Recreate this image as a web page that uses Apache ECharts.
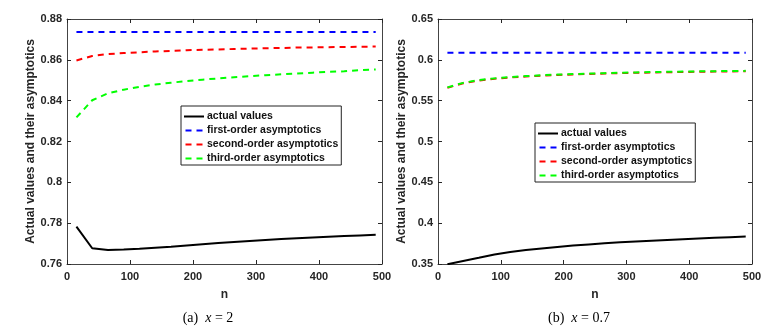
<!DOCTYPE html>
<html><head><meta charset="utf-8">
<script src="https://cdn.jsdelivr.net/npm/echarts@6/dist/echarts.min.js"></script>
<style>html,body{margin:0;padding:0;background:#fff}#c{width:773px;height:326px}</style>
</head><body><div id="c"></div>
<script>
const nValues = [15,40,65,90,115,140,165,190,215,240,265,290,315,340,365,390,415,440,465,490];
const seriesNames = ['actual values','first-order asymptotics','second-order asymptotics','third-order asymptotics'];
// Panel (a) x = 2
const aActual = [0.7783,0.7677,0.7669,0.7671,0.7675,0.7680,0.7685,0.7691,0.7697,0.7703,0.7708,0.7713,0.7718,0.7722,0.7726,0.7730,0.7734,0.7737,0.7740,0.7743];
const aFirst  = [0.8736,0.8736,0.8736,0.8736,0.8736,0.8736,0.8736,0.8736,0.8736,0.8736,0.8736,0.8736,0.8736,0.8736,0.8736,0.8736,0.8736,0.8736,0.8736,0.8736];
const aSecond = [0.8597,0.8619,0.8628,0.8633,0.8637,0.8641,0.8644,0.8647,0.8649,0.8651,0.8653,0.8655,0.8657,0.8658,0.8660,0.8661,0.8662,0.8663,0.8664,0.8665];
const aThird  = [0.8318,0.8402,0.8436,0.8454,0.8468,0.8479,0.8488,0.8496,0.8503,0.8509,0.8515,0.8520,0.8525,0.8529,0.8533,0.8537,0.8541,0.8544,0.8550,0.8553];
// Panel (b) x = 0.7
const bActual = [0.3497,0.3537,0.3576,0.3617,0.3646,0.3670,0.3690,0.3709,0.3726,0.3740,0.3753,0.3765,0.3776,0.3786,0.3795,0.3804,0.3813,0.3821,0.3829,0.3836];
const bFirst  = [0.6086,0.6086,0.6086,0.6086,0.6086,0.6086,0.6086,0.6086,0.6086,0.6086,0.6086,0.6086,0.6086,0.6086,0.6086,0.6086,0.6086,0.6086,0.6086,0.6086];
const bSecond = [0.5658,0.5713,0.5747,0.5768,0.5784,0.5796,0.5806,0.5814,0.5821,0.5827,0.5832,0.5837,0.5841,0.5845,0.5848,0.5851,0.5854,0.5856,0.5858,0.5860];
const bThird  = [0.5663,0.5718,0.5752,0.5773,0.5789,0.5801,0.5811,0.5819,0.5826,0.5832,0.5837,0.5842,0.5846,0.5850,0.5853,0.5856,0.5859,0.5861,0.5863,0.5865];
// axis ticks
const xTicks = [0,100,200,300,400,500];
const aYTicks = [0.76,0.78,0.8,0.82,0.84,0.86,0.88];
const bYTicks = [0.35,0.4,0.45,0.5,0.55,0.6,0.65];
const colors = ['#000000','#0000ff','#ff0000','#00ff00'];
const yTitle = 'Actual values and their asymptotics';

const font = 'Liberation Sans, Arial, sans-serif';
const axisCol = '#444';
const zip = (xs, ys) => xs.map((x,i)=>[x, ys[i]]);

function xAx(gi){
  return [{gridIndex:gi, type:'value', min:xTicks[0], max:xTicks[xTicks.length-1], interval:xTicks[1]-xTicks[0],
    name:'n', nameLocation:'middle', nameGap:25,
    nameTextStyle:{fontFamily:font, fontWeight:'bold', fontSize:12, color:'#262626'},
    axisLine:{onZero:false, lineStyle:{color:axisCol, width:1}},
    axisTick:{inside:true, length:4, lineStyle:{color:'#262626'}},
    axisLabel:{fontFamily:font, fontWeight:'bold', fontSize:11, color:'#262626', margin:7},
    splitLine:{show:false}},
   {gridIndex:gi, type:'value', position:'top', min:xTicks[0], max:xTicks[xTicks.length-1], interval:xTicks[1]-xTicks[0],
    axisLine:{onZero:false, lineStyle:{color:axisCol, width:1}},
    axisTick:{inside:true, length:4, lineStyle:{color:'#262626'}},
    axisLabel:{show:false}, splitLine:{show:false}}];
}
function yAx(gi, ticks){
  return [{gridIndex:gi, type:'value', min:ticks[0], max:ticks[ticks.length-1], interval:+(ticks[1]-ticks[0]).toFixed(4),
    name:yTitle, nameLocation:'middle', nameGap:30,
    nameTextStyle:{fontFamily:font, fontWeight:'bold', fontSize:12, color:'#262626'},
    axisLine:{show:true, onZero:false, lineStyle:{color:axisCol, width:1}},
    axisTick:{show:true, inside:true, length:4, lineStyle:{color:'#262626'}},
    axisLabel:{fontFamily:font, fontWeight:'bold', fontSize:11, color:'#262626', margin:5},
    splitLine:{show:false}},
   {gridIndex:gi, type:'value', position:'right', min:ticks[0], max:ticks[ticks.length-1], interval:+(ticks[1]-ticks[0]).toFixed(4),
    axisLine:{show:true, onZero:false, lineStyle:{color:axisCol, width:1}},
    axisTick:{show:true, inside:true, length:4, lineStyle:{color:'#262626'}},
    axisLabel:{show:false}, splitLine:{show:false}}];
}
function mkSeries(gi, arrs){
  return arrs.map((d,i)=>({
    name:seriesNames[i], type:'line', xAxisIndex:gi*2, yAxisIndex:gi*2,
    data:zip(nValues, d), showSymbol:false, symbol:'none', silent:true, animation:false,
    lineStyle:{color:colors[i], width:2, type:i===0?'solid':[6,5]},
    itemStyle:{color:colors[i]}, z: i===2 ? 2 : 3
  }));
}
const solidIcon = 'path://M0,0h20v2h-20z';
const dashIcon = 'path://M0,0h6v2h-6zM11,0h6v2h-6z';
function legend(left, top){
  return {left:left, top:top, orient:'vertical', itemGap:3, itemWidth:20, itemHeight:2,
    padding:[5,3,1,3], borderColor:'#222', borderWidth:1, backgroundColor:'#fff',
    textStyle:{fontFamily:font, fontWeight:'bold', fontSize:10.5, color:'#111', padding:[0,0,0,-2], lineHeight:11},
    data:seriesNames.map((n,i)=>({name:n, icon:i===0?solidIcon:dashIcon})),
    selectedMode:false};
}
const capStyle = {fontFamily:'Liberation Serif, Times New Roman, serif', fontSize:14, fontWeight:'normal', color:'#000',
  rich:{i:{fontFamily:'Liberation Serif, serif', fontStyle:'italic', fontSize:14}}};
const chart = echarts.init(document.getElementById('c'), null, {renderer:'canvas'});
chart.setOption({
  animation:false,
  grid:[{left:67, top:19, width:315, height:245, show:false},
        {left:438, top:19, width:314, height:245, show:false}],
  xAxis:[...xAx(0), ...xAx(1)],
  yAxis:[...yAx(0, aYTicks), ...yAx(1, bYTicks)],
  legend:[legend(181,106), legend(535,123)],
  title:[
    {text:'(a)  {i|x} = 2', left:208, top:311, textAlign:'center', padding:0, textStyle:capStyle},
    {text:'(b)  {i|x} = 0.7', left:579, top:311, textAlign:'center', padding:0, textStyle:capStyle}
  ],
  series:[...mkSeries(0,[aActual,aFirst,aSecond,aThird]), ...mkSeries(1,[bActual,bFirst,bSecond,bThird])]
});
</script></body></html>
